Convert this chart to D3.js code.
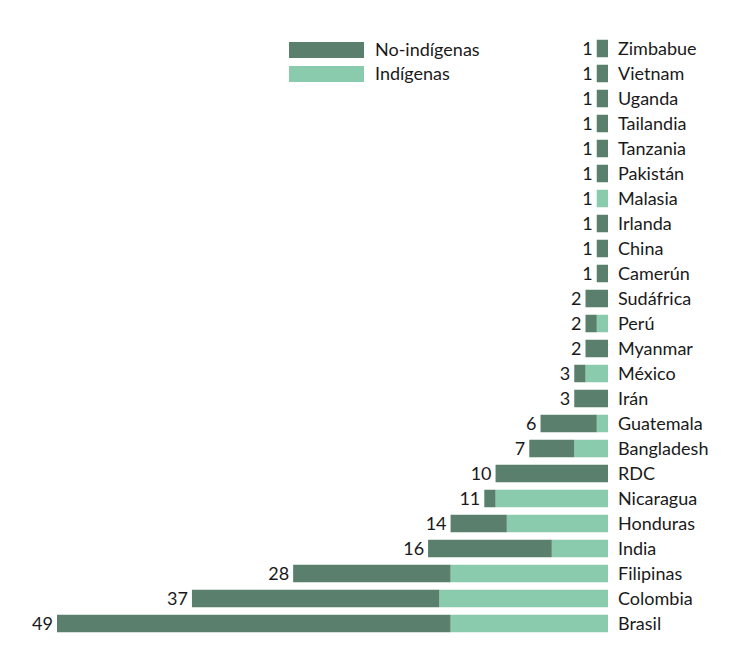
<!DOCTYPE html>
<html>
<head>
<meta charset="utf-8">
<script src="https://cdn.jsdelivr.net/npm/d3@7"></script>
<style>
  body { margin: 0; background: #fff; }
  text { font-family: Lato, "DejaVu Sans", sans-serif; fill: #1a1a1a; }
</style>
</head>
<body>
<div id="chart"></div>
<script>
// countries from top to bottom
var countries = ["Zimbabue","Vietnam","Uganda","Tailandia","Tanzania","Pakistán","Malasia","Irlanda","China","Camerún",
  "Sudáfrica","Perú","Myanmar","México","Irán","Guatemala","Bangladesh","RDC","Nicaragua","Honduras",
  "India","Filipinas","Colombia","Brasil"];
var noIndigenas = [1,1,1,1,1,1,0,1,1,1, 2,1,2,1,3,5,4,10,1,5, 11,14,22,35];
var indigenas   = [0,0,0,0,0,0,1,0,0,0, 0,1,0,2,0,1,3,0,10,9, 5,14,15,14];
var seriesNames = ["No-indígenas","Indígenas"];
var colors = ["#5a7f6c","#8acbae"];

var width = 738, height = 654;
var axisX = 608;

var svg = d3.select("#chart").append("svg").attr("width", width).attr("height", height);

var data = countries.map(function(c, i) {
  return { country: c, no: noIndigenas[i], ind: indigenas[i], total: noIndigenas[i] + indigenas[i] };
});

var xScale = d3.scaleLinear().domain([0, 49]).range([0, axisX - 57]);
var yScale = d3.scaleBand().domain(countries).range([36, 636]).paddingInner(0.3).paddingOuter(0.15);

var rows = svg.append("g").selectAll("g")
  .data(data)
  .enter()
  .append("g")
  .attr("transform", function(d) { return "translate(0," + yScale(d.country) + ")"; });

// indigenous part sits against the axis, non-indigenous further out
rows.append("rect")
  .attr("x", function(d) { return axisX - xScale(d.ind); })
  .attr("width", function(d) { return xScale(d.ind); })
  .attr("height", yScale.bandwidth())
  .attr("fill", colors[1]);

rows.append("rect")
  .attr("x", function(d) { return axisX - xScale(d.total); })
  .attr("width", function(d) { return xScale(d.no); })
  .attr("height", yScale.bandwidth())
  .attr("fill", colors[0]);

rows.append("text")
  .attr("x", function(d) { return axisX - xScale(d.total) - 4; })
  .attr("y", yScale.bandwidth() / 2)
  .attr("dy", "0.35em")
  .attr("text-anchor", "end")
  .style("font-size", "18px")
  .text(function(d) { return d.total; });

rows.append("text")
  .attr("x", axisX + 10)
  .attr("y", yScale.bandwidth() / 2)
  .attr("dy", "0.35em")
  .style("font-size", "18px")
  .text(function(d) { return d.country; });

// legend
var legend = svg.append("g").selectAll("g")
  .data(seriesNames)
  .enter()
  .append("g")
  .attr("transform", function(d, i) { return "translate(289," + (42 + i * 24) + ")"; });

legend.append("rect")
  .attr("width", 75)
  .attr("height", 16)
  .attr("fill", function(d, i) { return colors[i]; });

legend.append("text")
  .attr("x", 86)
  .attr("y", 8)
  .attr("dy", "0.35em")
  .style("font-size", "18px")
  .text(function(d) { return d; });
</script>
</body>
</html>
